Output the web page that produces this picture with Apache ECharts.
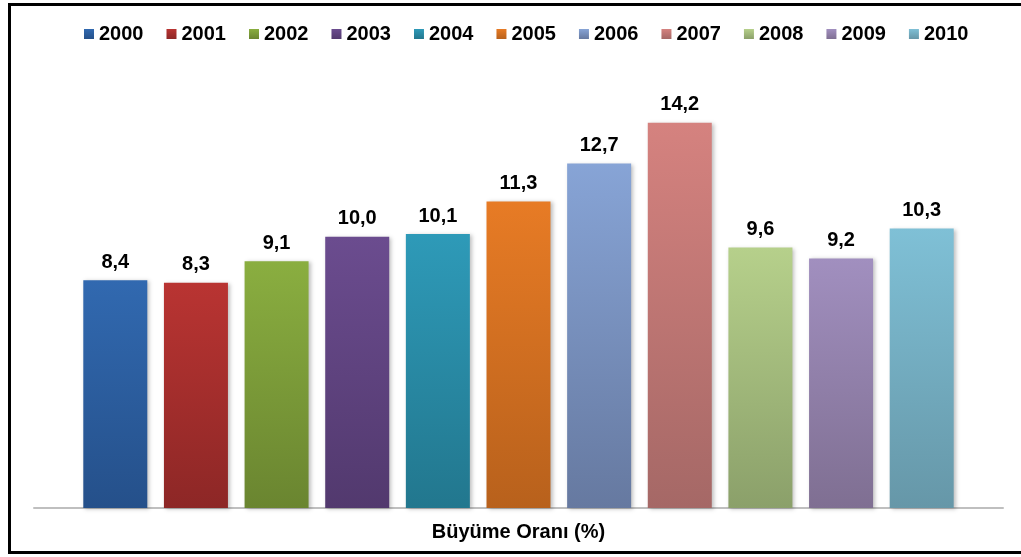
<!DOCTYPE html>
<html>
<head>
<meta charset="utf-8">
<script src="https://cdn.jsdelivr.net/npm/echarts@6/dist/echarts.min.js"></script>
<style>
  html, body { margin: 0; padding: 0; background: #fff; overflow: hidden; }
  #main { position: absolute; left: 0; top: 0; width: 1021px; height: 557px; }
  #frame { position: absolute; left: 8px; top: 3px; width: 1100px; height: 545px;
           border-left: 3px solid #000; border-top: 3px solid #000; border-bottom: 3px solid #000;
           pointer-events: none; }
</style>
</head>
<body>
<div id="main"></div>
<div id="frame"></div>
<script>
var chart = echarts.init(document.getElementById('main'))

// yıllar ve büyüme oranları
var years = ['2000', '2001', '2002', '2003', '2004', '2005', '2006', '2007', '2008', '2009', '2010']
var rates = [8.4, 8.3, 9.1, 10.0, 10.1, 11.3, 12.7, 14.2, 9.6, 9.2, 10.3]
var category = ['Büyüme Oranı (%)']
var topColors = ['#3169b0', '#b93432', '#8aae40', '#6b4c8f', '#2e9ab8', '#e77b25', '#87a4d6', '#d5827f', '#b6d08b', '#a18fbf', '#7fc0d6']
var bottomColors = ['#25508a', '#8d2726', '#6a8530', '#52396e', '#22778e', '#b8611c', '#6679a0', '#a56866', '#8ba06a', '#7f6f92', '#6697a8']

var font = 'Liberation Sans, Arial, sans-serif'

var series = []
years.forEach(function (y, i) {
    series.push({
        name: y,
        type: 'bar',
        data: [rates[i]],
        barWidth: 64,
        barGap: '26%',
        itemStyle: {
            color: new echarts.graphic.LinearGradient(0, 0, 0, 1, [
                { offset: 0, color: topColors[i] },
                { offset: 1, color: bottomColors[i] }
            ]),
            shadowColor: 'rgba(0,0,0,0.25)',
            shadowBlur: 4,
            shadowOffsetX: 2,
            shadowOffsetY: 1
        },
        label: {
            show: true,
            position: 'top',
            distance: 8,
            fontFamily: font,
            fontWeight: 'bold',
            fontSize: 20,
            color: '#000',
            formatter: function (p) {
                return p.value.toFixed(1).replace('.', ',')
            }
        }
    })
})

var option = {
    animation: false,
    color: topColors,
    legend: {
        top: 19,
        left: 79,
        itemWidth: 10,
        itemHeight: 10,
        itemGap: 23,
        icon: 'rect',
        textStyle: { fontFamily: font, fontWeight: 'bold', fontSize: 20, color: '#000' },
        data: years
    },
    grid: { left: 34, right: 18, top: 74, bottom: 49 },
    xAxis: {
        type: 'category',
        data: category,
        axisLine: { lineStyle: { color: '#bfbfbf', width: 2 } },
        axisTick: { show: false },
        axisLabel: { fontFamily: font, fontWeight: 'bold', fontSize: 20, color: '#000', margin: 14 }
    },
    yAxis: {
        type: 'value',
        min: 0,
        max: 16,
        show: false,
        splitLine: { show: false }
    },
    series: series
}

chart.setOption(option, true)
</script>
</body>
</html>
